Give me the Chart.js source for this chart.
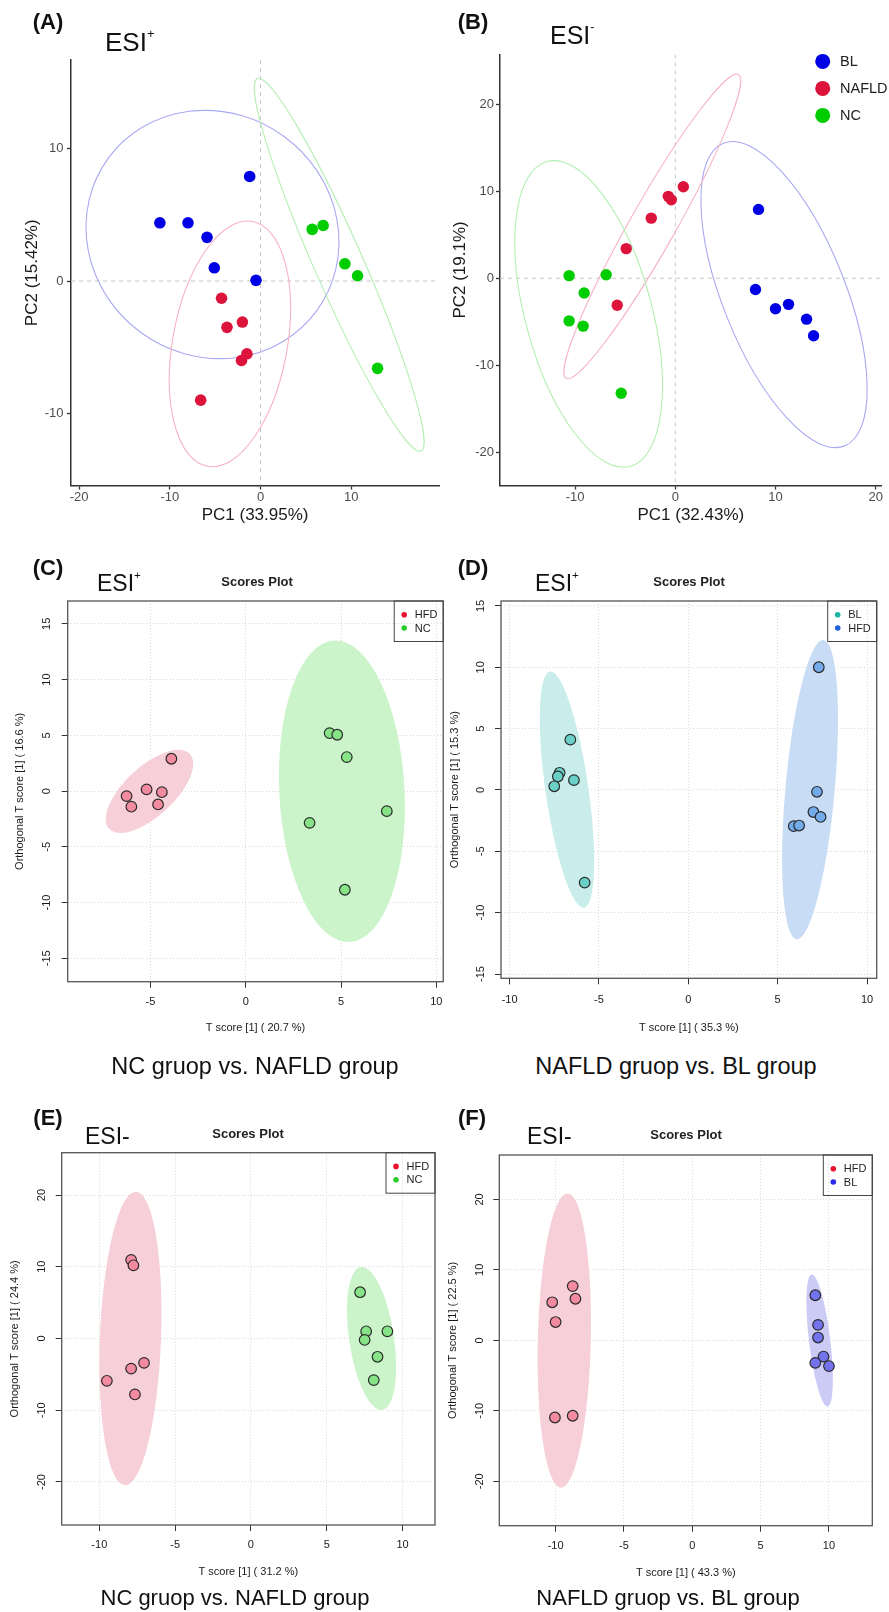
<!DOCTYPE html>
<html>
<head>
<meta charset="utf-8">
<script src="https://cdn.jsdelivr.net/npm/chart.js@4.4.0/dist/chart.umd.min.js"></script>
<style>
  body { margin: 0; background: #fff; }
  #fig { position: relative; width: 889px; height: 1612px; overflow: hidden;
         font-family: "Liberation Sans", Arial, sans-serif; color: #111; }
  #fig canvas { position: absolute; }
  .t, .tl { position: absolute; white-space: nowrap; line-height: 1; z-index: 2; }
  .t { transform: translate(-50%, -50%); }
  .tl { transform: translateY(-50%); }
  .tag { font-weight: bold; font-size: 22px; }
  .sp { font-weight: bold; font-size: 13px; color: #222; }
  sup { font-size: 0.5em; vertical-align: 1em; line-height: 0; }
</style>
</head>
<body>
<div id="fig">
  <div class="t tag" style="left:48px;top:22px">(A)</div>
  <div class="t tag" style="left:473px;top:22px">(B)</div>
  <div class="t tag" style="left:48px;top:568px">(C)</div>
  <div class="t tag" style="left:473px;top:568px">(D)</div>
  <div class="t tag" style="left:48px;top:1118px">(E)</div>
  <div class="t tag" style="left:472px;top:1118px">(F)</div>

  <div class="tl" style="left:105px;top:42px;font-size:26px">ESI<sup>+</sup></div>
  <div class="tl" style="left:550px;top:35px;font-size:25px">ESI<sup>-</sup></div>
  <div class="tl" style="left:97px;top:583px;font-size:23px">ESI<sup>+</sup></div>
  <div class="tl" style="left:535px;top:583px;font-size:23px">ESI<sup>+</sup></div>
  <div class="tl" style="left:85px;top:1136px;font-size:23px">ESI-</div>
  <div class="tl" style="left:527px;top:1136px;font-size:23px">ESI-</div>

  <div class="t sp" style="left:257px;top:581px">Scores Plot</div>
  <div class="t sp" style="left:689px;top:581px">Scores Plot</div>
  <div class="t sp" style="left:248px;top:1133px">Scores Plot</div>
  <div class="t sp" style="left:686px;top:1134px">Scores Plot</div>

  <div class="t" style="left:255px;top:1067px;font-size:23.5px">NC gruop vs. NAFLD group</div>
  <div class="t" style="left:676px;top:1067px;font-size:23.5px">NAFLD gruop vs. BL group</div>
  <div class="t" style="left:235px;top:1598px;font-size:22px">NC gruop vs. NAFLD group</div>
  <div class="t" style="left:668px;top:1598px;font-size:22px">NAFLD gruop vs. BL group</div>
</div>
<script>
// ---- data: (A) PCA, ESI+ ----
const aTicksX = [-20, -10, 0, 10];
const aTicksY = [-10, 0, 10];
const aBLx = [-1.2, -11.1, -8.0, -5.9, -5.1, -0.5];
const aBLy = [7.9, 4.4, 4.4, 3.3, 1.0, 0.05];
const aNAFLDx = [-4.3, -3.7, -2.0, -1.5, -2.1, -6.6];
const aNAFLDy = [-1.3, -3.5, -3.1, -5.5, -6.0, -9.0];
const aNCx = [5.7, 6.9, 9.3, 10.7, 12.9];
const aNCy = [3.9, 4.2, 1.3, 0.4, -6.6];
// ellipse: tip1 x, tip1 y, tip2 x, tip2 y, minor/major
const aEllBL = [-16.8, 9.27, 6.2, -2.24, 0.94];
const aEllNAFLD = [-0.9, 4.5, -5.85, -14.0, 0.46];
const aEllNC = [-0.36, 15.3, 17.7, -12.85, 0.12];

// ---- data: (B) PCA, ESI- ----
const bTicksX = [-10, 0, 10, 20];
const bTicksY = [-20, -10, 0, 10, 20];
const bBLx = [8.3, 8.0, 10.0, 11.3, 13.1, 13.8];
const bBLy = [7.9, -1.3, -3.5, -3.0, -4.7, -6.6];
const bNAFLDx = [0.8, -0.7, -0.4, -2.4, -4.9, -5.8];
const bNAFLDy = [10.5, 9.4, 9.0, 6.9, 3.4, -3.1];
const bNCx = [-10.6, -6.9, -9.1, -10.6, -9.2, -5.4];
const bNCy = [0.3, 0.4, -1.7, -4.9, -5.5, -13.2];
const bEllBL = [4.8, 15.5, 16.9, -19.25, 0.376];
const bEllNAFLD = [6.3, 23.4, -10.9, -11.5, 0.13];
const bEllNC = [-12.8, 13.4, -4.5, -21.6, 0.40];

// ---- data: (C) OPLS-DA, ESI+, NC vs NAFLD ----
const cTicksX = [-5, 0, 5, 10];
const cTicksY = [-15, -10, -5, 0, 5, 10, 15];
const cHFDx = [-3.9, -5.2, -4.4, -6.25, -6.0, -4.6];
const cHFDy = [2.9, 0.15, -0.1, -0.45, -1.4, -1.2];
const cNCx = [4.4, 4.8, 5.3, 7.4, 3.35, 5.2];
const cNCy = [5.2, 5.05, 3.05, -1.8, -2.85, -8.85];
const cEllHFD = [-7.17, -3.38, -2.93, 3.32, 0.45];
const cEllNC = [4.64, 13.5, 5.45, -13.54, 0.415];

// ---- data: (D) OPLS-DA, ESI+, NAFLD vs BL ----
const dTicksX = [-10, -5, 0, 5, 10];
const dTicksY = [-15, -10, -5, 0, 5, 10, 15];
const dBLx = [-6.6, -7.2, -7.3, -7.5, -6.4, -5.8];
const dBLy = [4.1, 1.4, 1.1, 0.3, 0.8, -7.55];
const dHFDx = [7.3, 7.2, 7.0, 7.4, 5.9, 6.2];
const dHFDy = [10.0, -0.15, -1.8, -2.2, -2.95, -2.9];
const dEllBL = [-7.74, 9.65, -5.84, -9.59, 0.18];
const dEllHFD = [7.56, 12.23, 6.06, -12.17, 0.164];

// ---- data: (E) OPLS-DA, ESI-, NC vs NAFLD ----
const eTicksX = [-10, -5, 0, 5, 10];
const eTicksY = [-20, -10, 0, 10, 20];
const eHFDx = [-7.9, -7.75, -7.9, -7.05, -9.5, -7.65];
const eHFDy = [10.95, 10.2, -4.2, -3.4, -5.9, -7.8];
const eNCx = [7.2, 7.6, 7.5, 9.0, 8.35, 8.1];
const eNCy = [6.45, 1.0, -0.2, 1.0, -2.55, -5.8];
const eEllHFD = [-7.58, 20.47, -8.31, -20.47, 0.208];
const eEllNC = [7.25, 9.97, 8.66, -9.97, 0.31];

// ---- data: (F) OPLS-DA, ESI-, NAFLD vs BL ----
const fTicksX = [-10, -5, 0, 5, 10];
const fTicksY = [-20, -10, 0, 10, 20];
const fHFDx = [-8.75, -8.55, -10.25, -10.0, -10.05, -8.75];
const fHFDy = [7.7, 5.9, 5.4, 2.6, -10.95, -10.7];
const fBLx = [9.0, 9.2, 9.2, 9.6, 9.0, 10.0];
const fBLy = [6.4, 2.2, 0.4, -2.3, -3.2, -3.65];
const fEllHFD = [-9.12, 20.85, -9.61, -20.9, 0.18];
const fEllBL = [8.73, 9.34, 9.9, -9.38, 0.16];

const FONT = '"Liberation Sans", Arial, sans-serif';
const fig = document.getElementById('fig');

// colours
const gg = { BL: '#0000e5', NAFLD: '#dc143c', NC: '#00cd00' };
const ring = { BL: '#a9a9f2', NAFLD: '#f6b3c1', NC: '#b3efb3' };
const rHFD = { pt: '#f28aa0', fill: '#f6cfd8', key: '#e8132f' };
const rNC = { pt: '#86e486', fill: '#cbf4cb', key: '#2bcb2b' };

const panels = [
  { style: 'gg', box: [0, 0, 445, 540], area: [71, 60, 441.7, 485.5], xH: 39.7,
    xr: [-20.9, 19.7], yr: [-15.45, 16.7], xt: aTicksX, yt: aTicksY,
    xTitle: 'PC1 (33.95%)', yTitle: 'PC2 (15.42%)', yTitlePad: 21.8, yPad: 3.5, xPad: 0, r: 5.8,
    series: [
      { name: 'BL', x: aBLx, y: aBLy, pt: gg.BL, line: ring.BL, ell: aEllBL },
      { name: 'NAFLD', x: aNAFLDx, y: aNAFLDy, pt: gg.NAFLD, line: ring.NAFLD, ell: aEllNAFLD },
      { name: 'NC', x: aNCx, y: aNCy, pt: gg.NC, line: ring.NC, ell: aEllNC }
    ] },
  { style: 'gg', box: [445, 0, 444, 540], area: [500, 54.4, 881.7, 485.5], xH: 39.7,
    xr: [-17.5, 20.6], yr: [-23.8, 25.7], xt: bTicksX, yt: bTicksY,
    xTitle: 'PC1 (32.43%)', yTitle: 'PC2 (19.1%)', yTitlePad: 4.8, yPad: 2, xPad: 0, r: 5.7,
    legend: 'gg',
    series: [
      { name: 'BL', x: bBLx, y: bBLy, pt: gg.BL, line: ring.BL, ell: bEllBL, key: gg.BL },
      { name: 'NAFLD', x: bNAFLDx, y: bNAFLDy, pt: gg.NAFLD, line: ring.NAFLD, ell: bEllNAFLD, key: gg.NAFLD },
      { name: 'NC', x: bNCx, y: bNCy, pt: gg.NC, line: ring.NC, ell: bEllNC, key: gg.NC }
    ] },
  { style: 'r', box: [0, 545, 450, 500], area: [67.7, 601, 446, 981.7], xH: 52.9,
    xr: [-9.34, 10.36], yr: [-17.1, 17.05], xt: cTicksX, yt: cTicksY,
    xTitle: 'T score [1] ( 20.7 %)', yTitle: 'Orthogonal T score [1] ( 16.6 %)',
    yTitlePad: 13.4, yPad: 7, xPad: 7.4, r: 5.3, legend: 'box',
    series: [
      { name: 'HFD', x: cHFDx, y: cHFDy, pt: rHFD.pt, fill: rHFD.fill, key: rHFD.key, ell: cEllHFD },
      { name: 'NC', x: cNCx, y: cNCy, pt: rNC.pt, fill: rNC.fill, key: rNC.key, ell: cEllNC }
    ] },
  { style: 'r', box: [445, 545, 444, 500], area: [501, 601, 876.7, 978.3], xH: 55.8,
    xr: [-10.48, 10.54], yr: [-15.35, 15.4], xt: dTicksX, yt: dTicksY,
    xTitle: 'T score [1] ( 35.3 %)', yTitle: 'Orthogonal T score [1] ( 15.3 %)',
    yTitlePad: 3.4, yPad: 6.3, xPad: 9.1, r: 5.3, legend: 'box',
    series: [
      { name: 'BL', x: dBLx, y: dBLy, pt: '#6acfc7', fill: '#c9edea', key: '#1fb3a3', ell: dEllBL },
      { name: 'HFD', x: dHFDx, y: dHFDy, pt: '#72aaea', fill: '#c8ddf5', key: '#1f62db', ell: dEllHFD }
    ] },
  { style: 'r', box: [0, 1095, 445, 500], area: [61.7, 1152.7, 435, 1525], xH: 53.6,
    xr: [-12.48, 12.14], yr: [-26.0, 25.9], xt: eTicksX, yt: eTicksY,
    xTitle: 'T score [1] ( 31.2 %)', yTitle: 'Orthogonal T score [1] ( 24.4 %)',
    yTitlePad: 8.4, yPad: 6, xPad: 7.4, r: 5.3, legend: 'box',
    series: [
      { name: 'HFD', x: eHFDx, y: eHFDy, pt: rHFD.pt, fill: rHFD.fill, key: rHFD.key, ell: eEllHFD },
      { name: 'NC', x: eNCx, y: eNCy, pt: rNC.pt, fill: rNC.fill, key: rNC.key, ell: eEllNC }
    ] },
  { style: 'r', box: [445, 1095, 444, 500], area: [499.3, 1155, 872.3, 1525.7], xH: 53.6,
    xr: [-14.12, 13.17], yr: [-26.3, 26.3], xt: fTicksX, yt: fTicksY,
    xTitle: 'T score [1] ( 43.3 %)', yTitle: 'Orthogonal T score [1] ( 22.5 %)',
    yTitlePad: 1.4, yPad: 5.3, xPad: 7.7, r: 5.3, legend: 'box',
    series: [
      { name: 'HFD', x: fHFDx, y: fHFDy, pt: rHFD.pt, fill: rHFD.fill, key: rHFD.key, ell: fEllHFD },
      { name: 'BL', x: fBLx, y: fBLy, pt: '#7373ee', fill: '#cbcbf6', key: '#2b2bea', ell: fEllBL }
    ] }
];

function makePanel(p) {
  const [bx, by, bw, bh] = p.box;
  const [al, at, ar, ab] = p.area;
  const isGG = p.style === 'gg';
  const cv = document.createElement('canvas');
  cv.width = bw; cv.height = bh;
  cv.style.left = bx + 'px'; cv.style.top = by + 'px';
  fig.insertBefore(cv, fig.firstChild);

  const deco = {
    id: 'deco',
    beforeDatasetsDraw(chart) {
      const { ctx, chartArea: a, scales: { x, y } } = chart;
      ctx.save();
      ctx.beginPath(); ctx.rect(a.left, a.top, a.width, a.height); ctx.clip();
      if (isGG) {
        // dashed zero lines
        const x0 = x.getPixelForValue(0), y0 = y.getPixelForValue(0);
        ctx.strokeStyle = '#c8c8c8'; ctx.lineWidth = 1; ctx.setLineDash([4, 4]);
        ctx.beginPath();
        ctx.moveTo(x0, a.top); ctx.lineTo(x0, a.bottom);
        ctx.moveTo(a.left, y0); ctx.lineTo(a.right, y0);
        ctx.stroke();
        ctx.setLineDash([]);
      }
      p.series.forEach(s => {
        const e = s.ell;
        const x1 = x.getPixelForValue(e[0]), y1 = y.getPixelForValue(e[1]);
        const x2 = x.getPixelForValue(e[2]), y2 = y.getPixelForValue(e[3]);
        const rx = Math.hypot(x2 - x1, y2 - y1) / 2;
        ctx.beginPath();
        ctx.ellipse((x1 + x2) / 2, (y1 + y2) / 2, rx, rx * e[4], Math.atan2(y2 - y1, x2 - x1), 0, Math.PI * 2);
        if (isGG) { ctx.strokeStyle = s.line; ctx.lineWidth = 1.1; ctx.stroke(); }
        else { ctx.fillStyle = s.fill; ctx.fill(); }
      });
      ctx.restore();
    },
    afterDatasetsDraw(chart) {
      const { ctx, chartArea: a } = chart;
      ctx.save();
      if (!isGG) {
        ctx.strokeStyle = '#555'; ctx.lineWidth = 1.3;
        ctx.strokeRect(a.left, a.top, a.width, a.height);
      }
      ctx.textBaseline = 'middle'; ctx.textAlign = 'left';
      if (p.legend === 'gg') {
        ctx.font = '14.5px ' + FONT;
        p.series.forEach((s, i) => {
          const yy = a.top + 7 + 27 * i;
          ctx.fillStyle = s.key;
          ctx.beginPath(); ctx.arc(a.right - 59, yy, 7.5, 0, Math.PI * 2); ctx.fill();
          ctx.fillStyle = '#222';
          ctx.fillText(s.name, a.right - 41.7, yy + 1);
        });
      } else if (p.legend === 'box') {
        const lx = a.right - 49;
        ctx.strokeStyle = '#444'; ctx.lineWidth = 1;
        ctx.strokeRect(lx, a.top, 49, 40.5);
        ctx.font = '11px ' + FONT;
        p.series.forEach((s, i) => {
          const yy = a.top + 13.7 + 13.3 * i;
          ctx.fillStyle = s.key;
          ctx.beginPath(); ctx.arc(lx + 10, yy, 2.8, 0, Math.PI * 2); ctx.fill();
          ctx.fillStyle = '#222';
          ctx.fillText(s.name, lx + 20.5, yy + 0.5);
        });
      }
      ctx.restore();
    }
  };

  const tickFont = { family: FONT, size: isGG ? 13 : 11 };
  const titleFont = { family: FONT, size: isGG ? 17 : 11 };
  const tickColor = isGG ? '#4d4d4d' : '#1a1a1a';
  const grid = {
    display: true, drawOnChartArea: !isGG, color: '#d9d9d9', lineWidth: 1,
    drawTicks: true, tickLength: isGG ? 4 : 6, tickColor: '#333', tickWidth: isGG ? 1.3 : 1,
    tickBorderDash: []
  };
  const border = { display: isGG, color: '#333', width: 1.5, dash: isGG ? [] : [1, 2] };

  new Chart(cv, {
    type: 'scatter',
    data: {
      datasets: p.series.map(s => ({
        label: s.name,
        data: s.x.map((v, i) => ({ x: v, y: s.y[i] })),
        pointRadius: p.r,
        pointHoverRadius: p.r,
        pointBackgroundColor: s.pt,
        pointBorderColor: isGG ? s.pt : '#2b2b2b',
        pointBorderWidth: isGG ? 0 : 1.2
      }))
    },
    options: {
      responsive: false,
      animation: false,
      devicePixelRatio: 1,
      layout: { padding: { left: 0, top: at - by, right: bx + bw - ar, bottom: by + bh - ab - p.xH } },
      plugins: { legend: { display: false }, tooltip: { enabled: false } },
      scales: {
        x: {
          type: 'linear', min: p.xr[0], max: p.xr[1],
          afterBuildTicks: sc => { sc.ticks = p.xt.map(v => ({ value: v })); },
          afterFit: sc => { sc.height = p.xH; },
          grid, border,
          ticks: { font: tickFont, color: tickColor, padding: p.xPad, minRotation: 0, maxRotation: 0 },
          title: { display: true, text: p.xTitle, font: titleFont, color: '#1a1a1a', padding: 0 }
        },
        y: {
          type: 'linear', min: p.yr[0], max: p.yr[1],
          afterBuildTicks: sc => { sc.ticks = p.yt.map(v => ({ value: v })); },
          afterFit: sc => { sc.width = al - bx; },
          grid, border,
          ticks: isGG
            ? { font: tickFont, color: tickColor, padding: p.yPad }
            : { font: tickFont, color: tickColor, padding: p.yPad, minRotation: 90, maxRotation: 90, crossAlign: 'center' },
          title: { display: true, text: p.yTitle, font: titleFont, color: '#1a1a1a', padding: { top: p.yTitlePad, bottom: 0 } }
        }
      }
    },
    plugins: [deco]
  });
}

panels.forEach(makePanel);
</script>
</body>
</html>
